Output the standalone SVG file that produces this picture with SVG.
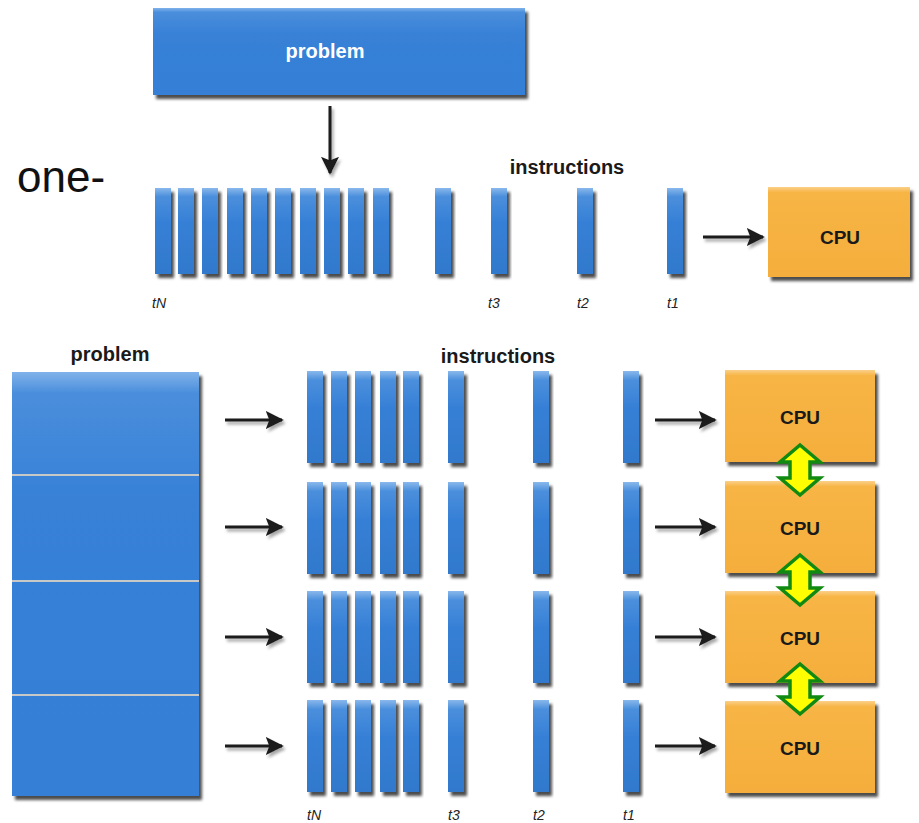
<svg xmlns="http://www.w3.org/2000/svg" width="919" height="823" viewBox="0 0 919 823">
<defs>
<linearGradient id="gBlue" x1="0" y1="0" x2="0" y2="1">
<stop offset="0" stop-color="#7fb2ea"/>
<stop offset="0.05" stop-color="#4a8edc"/>
<stop offset="0.3" stop-color="#3781d7"/>
<stop offset="1" stop-color="#3480d6"/>
</linearGradient>
<linearGradient id="gBar" x1="0" y1="0" x2="0" y2="1">
<stop offset="0" stop-color="#8ab8ec"/>
<stop offset="0.1" stop-color="#4b8fdc"/>
<stop offset="0.4" stop-color="#3680d6"/>
<stop offset="1" stop-color="#3279cc"/>
</linearGradient>
<linearGradient id="gOrange" x1="0" y1="0" x2="0" y2="1">
<stop offset="0" stop-color="#fbd08a"/>
<stop offset="0.06" stop-color="#f7b545"/>
<stop offset="1" stop-color="#f5ae3c"/>
</linearGradient>
<filter id="sh" x="-20%" y="-20%" width="150%" height="150%">
<feDropShadow dx="3" dy="4" stdDeviation="1.8" flood-color="#000" flood-opacity="0.7"/>
</filter>
<filter id="ash" filterUnits="userSpaceOnUse" x="0" y="0" width="919" height="823">
<feDropShadow dx="2" dy="3" stdDeviation="1.5" flood-color="#000" flood-opacity="0.35"/>
</filter>
<marker id="ah" viewBox="0 0 10 10" refX="9" refY="5" markerWidth="6" markerHeight="6" markerUnits="strokeWidth" orient="auto">
<path d="M0,0 L10,5 L0,10 L2,5 Z" fill="#1a1a1a"/>
</marker>
</defs>
<style>
.bar{fill:url(#gBar);filter:url(#sh)}
.blue{fill:url(#gBlue);filter:url(#sh)}
.cpu{fill:url(#gOrange);filter:url(#sh)}
.arr{stroke:#1a1a1a;stroke-width:3;fill:none;marker-end:url(#ah)}
.dbl{fill:#ffff00;stroke:#118a11;stroke-width:3.5;stroke-linejoin:miter}
.lbl{font-family:"Liberation Sans",Arial,sans-serif;font-weight:bold;font-size:20px;fill:#1a1a1a;text-anchor:middle}
.cpuT{font-family:"Liberation Sans",Arial,sans-serif;font-weight:bold;font-size:19px;fill:#1a1a1a;text-anchor:middle}
.t{font-family:"Liberation Sans",Arial,sans-serif;font-style:italic;font-size:14px;fill:#222}
.sep{stroke:#c8c8c8;stroke-width:2}
</style>

<text x="17" y="192" font-family="'Liberation Sans',Arial,sans-serif" font-size="44" fill="#111">one-</text>

<g id="problem-top">
<rect class="blue" x="153" y="8" width="372" height="87"/>
<text class="lbl" x="325" y="58" style="fill:#fff">problem</text>
</g>

<g id="instructions-top">
<text class="lbl" x="567" y="174">instructions</text>
<rect class="bar" x="155" y="188" width="16" height="86"/>
<rect class="bar" x="178" y="188" width="16" height="86"/>
<rect class="bar" x="202" y="188" width="16" height="86"/>
<rect class="bar" x="227" y="188" width="16" height="86"/>
<rect class="bar" x="251" y="188" width="16" height="86"/>
<rect class="bar" x="275" y="188" width="16" height="86"/>
<rect class="bar" x="300" y="188" width="16" height="86"/>
<rect class="bar" x="324" y="188" width="16" height="86"/>
<rect class="bar" x="348" y="188" width="16" height="86"/>
<rect class="bar" x="373" y="188" width="16" height="86"/>
<rect class="bar" x="435" y="188" width="16" height="86"/>
<rect class="bar" x="491" y="188" width="16" height="86"/>
<rect class="bar" x="577" y="188" width="16" height="86"/>
<rect class="bar" x="667" y="188" width="16" height="86"/>
<text class="t" x="152" y="308">tN</text>
<text class="t" x="488" y="308">t3</text>
<text class="t" x="577" y="308">t2</text>
<text class="t" x="667" y="308">t1</text>
</g>

<g id="cpu-top">
<rect class="cpu" x="768" y="187" width="142" height="90"/>
<text class="cpuT" x="840" y="244">CPU</text>
</g>

<g id="problem-bottom">
<text class="lbl" x="110" y="361">problem</text>
<rect class="blue" x="12" y="372" width="187" height="424"/>
<line class="sep" x1="12" y1="475" x2="199" y2="475"/>
<line class="sep" x1="12" y1="581" x2="199" y2="581"/>
<line class="sep" x1="12" y1="695" x2="199" y2="695"/>
</g>

<g id="instructions-bottom">
<text class="lbl" x="498" y="363">instructions</text>
<g id="row1">
<rect class="bar" x="307" y="371" width="16" height="92"/>
<rect class="bar" x="331" y="371" width="16" height="92"/>
<rect class="bar" x="355" y="371" width="16" height="92"/>
<rect class="bar" x="380" y="371" width="16" height="92"/>
<rect class="bar" x="403" y="371" width="16" height="92"/>
<rect class="bar" x="448" y="371" width="16" height="92"/>
<rect class="bar" x="533" y="371" width="16" height="92"/>
<rect class="bar" x="623" y="371" width="16" height="92"/>
</g>
<g id="row2">
<rect class="bar" x="307" y="482" width="16" height="92"/>
<rect class="bar" x="331" y="482" width="16" height="92"/>
<rect class="bar" x="355" y="482" width="16" height="92"/>
<rect class="bar" x="380" y="482" width="16" height="92"/>
<rect class="bar" x="403" y="482" width="16" height="92"/>
<rect class="bar" x="448" y="482" width="16" height="92"/>
<rect class="bar" x="533" y="482" width="16" height="92"/>
<rect class="bar" x="623" y="482" width="16" height="92"/>
</g>
<g id="row3">
<rect class="bar" x="307" y="591" width="16" height="92"/>
<rect class="bar" x="331" y="591" width="16" height="92"/>
<rect class="bar" x="355" y="591" width="16" height="92"/>
<rect class="bar" x="380" y="591" width="16" height="92"/>
<rect class="bar" x="403" y="591" width="16" height="92"/>
<rect class="bar" x="448" y="591" width="16" height="92"/>
<rect class="bar" x="533" y="591" width="16" height="92"/>
<rect class="bar" x="623" y="591" width="16" height="92"/>
</g>
<g id="row4">
<rect class="bar" x="307" y="700" width="16" height="92"/>
<rect class="bar" x="331" y="700" width="16" height="92"/>
<rect class="bar" x="355" y="700" width="16" height="92"/>
<rect class="bar" x="380" y="700" width="16" height="92"/>
<rect class="bar" x="403" y="700" width="16" height="92"/>
<rect class="bar" x="448" y="700" width="16" height="92"/>
<rect class="bar" x="533" y="700" width="16" height="92"/>
<rect class="bar" x="623" y="700" width="16" height="92"/>
</g>
<text class="t" x="307" y="820">tN</text>
<text class="t" x="448" y="820">t3</text>
<text class="t" x="533" y="820">t2</text>
<text class="t" x="623" y="820">t1</text>
</g>

<g id="cpu1"><rect class="cpu" x="725" y="370" width="150" height="92"/><text class="cpuT" x="800" y="424">CPU</text></g>
<g id="cpu2"><rect class="cpu" x="725" y="481" width="150" height="92"/><text class="cpuT" x="800" y="535">CPU</text></g>
<g id="cpu3"><rect class="cpu" x="725" y="591" width="150" height="92"/><text class="cpuT" x="800" y="645">CPU</text></g>
<g id="cpu4"><rect class="cpu" x="725" y="701" width="150" height="92"/><text class="cpuT" x="800" y="755">CPU</text></g>

<g id="connectors" filter="url(#ash)">
<line class="arr" x1="330" y1="106" x2="330" y2="173"/>
<line class="arr" x1="703" y1="237" x2="763" y2="237"/>
<line class="arr" x1="225" y1="420" x2="282" y2="420"/>
<line class="arr" x1="225" y1="527" x2="282" y2="527"/>
<line class="arr" x1="225" y1="637" x2="282" y2="637"/>
<line class="arr" x1="225" y1="746" x2="282" y2="746"/>
<line class="arr" x1="655" y1="420" x2="715" y2="420"/>
<line class="arr" x1="655" y1="527" x2="715" y2="527"/>
<line class="arr" x1="655" y1="637" x2="715" y2="637"/>
<line class="arr" x1="655" y1="746" x2="715" y2="746"/>
</g>
<g id="links">
<path class="dbl" d="M800,445 L820,462 L810,462 L810,478 L820,478 L800,495 L780,478 L790,478 L790,462 L780,462 Z"/>
<path class="dbl" d="M800,555 L820,572 L810,572 L810,588 L820,588 L800,605 L780,588 L790,588 L790,572 L780,572 Z"/>
<path class="dbl" d="M800,664 L820,681 L810,681 L810,697 L820,697 L800,714 L780,697 L790,697 L790,681 L780,681 Z"/>
</g>
</svg>
